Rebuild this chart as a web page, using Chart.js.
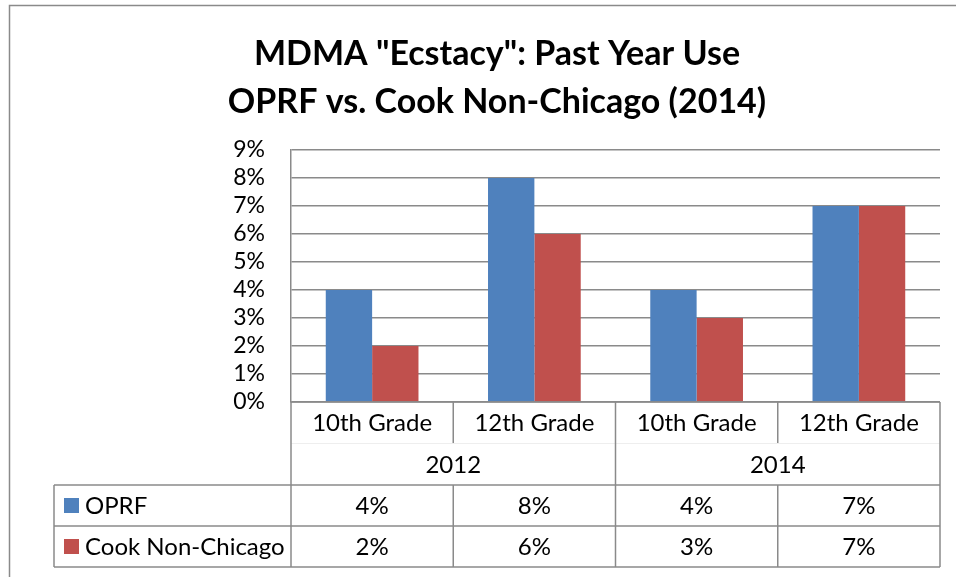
<!DOCTYPE html>
<html>
<head>
<meta charset="utf-8">
<script src="https://cdn.jsdelivr.net/npm/chart.js@4.4.0/dist/chart.umd.min.js"></script>
<style>
  html, body { margin: 0; padding: 0; background: #fff; }
  #wrap { width: 956px; height: 577px; }
</style>
</head>
<body>
<div id="wrap"><canvas id="chart" width="956" height="577"></canvas></div>
<script>
// Dados do gráfico
const grades = ["10th Grade", "12th Grade", "10th Grade", "12th Grade"];
const years = ["2012", "2014"];
const oprf = [4, 8, 4, 7];
const cookNonChicago = [2, 6, 3, 7];
const seriesNames = ["OPRF", "Cook Non-Chicago"];
const yTicks = [0, 1, 2, 3, 4, 5, 6, 7, 8, 9];

const BLUE = "#4F81BD";
const RED = "#C0504D";
const LINE = "#8a8a8a";
const FONT = "Lato, 'Open Sans', sans-serif";

// Desenha a tabela de dados por baixo do gráfico (estilo Excel)
const dataTablePlugin = {
  id: "dataTable",
  afterDraw(chart) {
    const ctx = chart.ctx;
    const x = chart.scales.x;
    const area = chart.chartArea;
    const left = area.left, right = area.right, top = area.bottom;
    const catW = (right - left) / grades.length;
    const rowCat = top + 41, rowYear = top + 83, rowA = rowYear + 41, rowB = rowA + 41;
    const legendLeft = 54;

    ctx.save();

    // moldura exterior
    ctx.strokeStyle = LINE;
    ctx.lineWidth = 1.5;
    ctx.beginPath();
    ctx.moveTo(9.5, chart.height);
    ctx.lineTo(9.5, 5.5);
    ctx.lineTo(chart.width, 5.5);
    ctx.stroke();

    // linha muito clara entre categorias e anos
    ctx.strokeStyle = "#eeeeee";
    ctx.lineWidth = 1;
    ctx.beginPath();
    ctx.moveTo(left, rowCat + 0.5);
    ctx.lineTo(right, rowCat + 0.5);
    ctx.stroke();

    ctx.strokeStyle = LINE;
    ctx.lineWidth = 1.5;
    ctx.beginPath();
    // eixo x
    ctx.moveTo(left, top); ctx.lineTo(right, top);
    // linhas horizontais da tabela
    [rowYear, rowA, rowB].forEach(y => { ctx.moveTo(legendLeft, y); ctx.lineTo(right, y); });
    // verticais
    ctx.moveTo(left, top); ctx.lineTo(left, rowB);
    ctx.moveTo(right, top); ctx.lineTo(right, rowB);
    ctx.moveTo(legendLeft, rowYear); ctx.lineTo(legendLeft, rowB);
    for (let i = 1; i < grades.length; i++) {
      const xx = left + catW * i;
      if (i % 2 === 0) {
        ctx.moveTo(xx, top); ctx.lineTo(xx, rowB);
      } else {
        ctx.moveTo(xx, top); ctx.lineTo(xx, rowCat);
        ctx.moveTo(xx, rowYear); ctx.lineTo(xx, rowB);
      }
    }
    ctx.stroke();

    // textos
    ctx.fillStyle = "#000";
    ctx.font = "24px " + FONT;
    ctx.textAlign = "center";
    ctx.textBaseline = "middle";
    grades.forEach((g, i) => {
      const cx = x.getPixelForValue(i);
      ctx.fillText(g, cx, (top + rowCat) / 2 + 1);
      ctx.fillText(oprf[i] + "%", cx, (rowYear + rowA) / 2 + 1);
      ctx.fillText(cookNonChicago[i] + "%", cx, (rowA + rowB) / 2 + 1);
    });
    years.forEach((yr, j) => {
      const cx = (x.getPixelForValue(j * 2) + x.getPixelForValue(j * 2 + 1)) / 2;
      ctx.fillText(yr, cx, (rowCat + rowYear) / 2 + 1);
    });

    // legenda dentro da tabela
    ctx.textAlign = "left";
    [[BLUE, rowYear, rowA], [RED, rowA, rowB]].forEach(([c, y0, y1], k) => {
      const cy = (y0 + y1) / 2;
      ctx.fillStyle = c;
      ctx.fillRect(64, cy - 7.5, 15, 15);
      ctx.fillStyle = "#000";
      ctx.fillText(seriesNames[k], 85, cy + 1);
    });

    ctx.restore();
  }
};

const ctx = document.getElementById("chart").getContext("2d");
new Chart(ctx, {
  type: "bar",
  data: {
    labels: grades,
    datasets: [
      { label: seriesNames[0], data: oprf, backgroundColor: BLUE },
      { label: seriesNames[1], data: cookNonChicago, backgroundColor: RED }
    ]
  },
  options: {
    responsive: false,
    animation: false,
    layout: { padding: { left: 54, right: 16, top: 0, bottom: 0 } },
    datasets: {
      bar: { categoryPercentage: 2 / 3.5, barPercentage: 1 }
    },
    scales: {
      x: {
        ticks: { display: false },
        grid: { display: false },
        border: { display: false },
        afterFit(scale) { scale.height = 175; }
      },
      y: {
        min: 0,
        max: 9,
        afterBuildTicks(scale) { scale.ticks = yTicks.map(v => ({ value: v })); },
        ticks: {
          autoSkip: false,
          callback: v => v + "%",
          color: "#000",
          padding: 26,
          font: { family: FONT, size: 23 }
        },
        grid: { color: LINE, lineWidth: 1.5, drawTicks: false },
        border: { display: true, color: LINE, width: 1.5 },
        afterFit(scale) { scale.width = 237; }
      }
    },
    plugins: {
      legend: { display: false },
      tooltip: { enabled: false },
      title: {
        display: true,
        text: ['MDMA "Ecstacy": Past Year Use', "OPRF vs. Cook Non-Chicago (2014)"],
        color: "#000",
        font: { family: FONT, size: 34, weight: "bold", lineHeight: 1.42 },
        padding: { top: 30, bottom: 23.4 }
      }
    }
  },
  plugins: [dataTablePlugin]
});
</script>
</body>
</html>
